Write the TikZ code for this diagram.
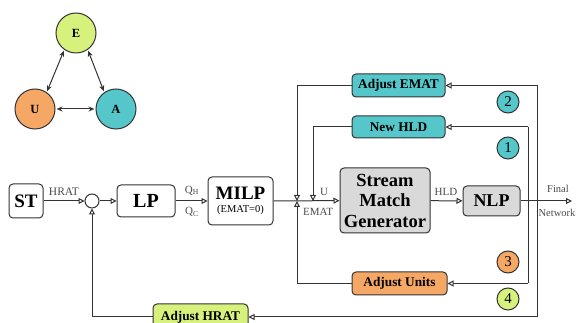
\documentclass[tikz,border=0pt]{standalone}
\usepackage{fontspec}
\setmainfont{Liberation Serif}
\usetikzlibrary{arrows.meta}
\definecolor{tealbox}{HTML}{55C6C9}
\definecolor{orangebox}{HTML}{F5A865}
\definecolor{greenbox}{HTML}{D6F27C}
\definecolor{graybox}{HTML}{D9D9D9}
\definecolor{linec}{HTML}{333333}
\definecolor{labelc}{HTML}{4A4A4A}
\tikzset{
  flow/.style={draw=linec, line width=1pt},
  tip/.style={flow, -{Triangle[open, length=6pt, width=6pt, fill=white]}},
  block/.style={draw=linec, line width=1pt, rounded corners=4pt, inner sep=0pt,
    align=center, font=\bfseries},
  feedback/.style={block, font=\bfseries\fontsize{13.3}{15}\selectfont,
    minimum width=93pt, minimum height=23pt},
  numcirc/.style={circle, draw=linec, line width=1pt, minimum size=22pt, inner sep=0pt,
    font=\fontsize{15}{15}\selectfont},
  stateC/.style={circle, draw=linec, line width=1pt, minimum size=40pt, inner sep=0pt,
    font=\bfseries\fontsize{12.5}{12.5}\selectfont},
  lbl/.style={text=labelc, inner sep=0pt, font=\fontsize{11}{11}\selectfont},
  dbl/.style={draw=linec, line width=1pt, {Stealth[length=6pt,width=5pt]}-{Stealth[length=6pt,width=5pt]}, shorten <=1pt, shorten >=1pt}
}
\begin{document}
\begin{tikzpicture}[x=1pt, y=-1pt]
\useasboundingbox (0,0) rectangle (579,323);

% --- interaction triangle ---
\node[stateC, fill=greenbox] (E) at (76,33) {E};
\node[stateC, fill=orangebox] (U) at (35,109) {U};
\node[stateC, fill=tealbox] (A) at (116,109) {A};
\draw[dbl] (E.235) -- (U.55);
\draw[dbl] (E.305) -- (A.125);
\draw[dbl] (U.east) -- (A.west);

% --- main flow ---
\node[block, fill=white, minimum width=34pt, minimum height=34pt,
  font=\bfseries\fontsize{19}{19}\selectfont] (st) at (26,201) {ST};
\node[circle, draw=linec, line width=1pt, minimum size=14pt, inner sep=0pt, fill=white] (sum) at (92,201) {};
\node[block, fill=white, minimum width=58pt, minimum height=32pt,
  font=\bfseries\fontsize{20}{20}\selectfont] (lp) at (146,201) {LP};
\node[block, fill=white, minimum width=65pt, minimum height=48pt] (milp) at (240.5,201)
  {{\fontsize{19}{20}\selectfont MILP}\\[1pt]{\mdseries\fontsize{10.5}{12}\selectfont (EMAT=0)}};
\node[block, fill=graybox, minimum width=90pt, minimum height=65pt,
  font=\bfseries\fontsize{18.5}{20.5}\selectfont] (smg) at (385,200.5) {Stream\\Match\\Generator};
\node[block, fill=graybox, minimum width=57pt, minimum height=30pt,
  font=\bfseries\fontsize{18}{18}\selectfont] (nlp) at (491.5,201) {NLP};

\coordinate (valve) at (297,201);
\coordinate (uin) at (313,201);
\coordinate (final) at (572,201);

\draw[tip] (st) -- (sum);
\draw[tip] (sum) -- (lp);
\draw[tip] (lp) -- (milp);
\draw[tip] (milp) -- (smg);
\draw[tip] (smg) -- (nlp);
\draw[tip] (nlp) -- (final);

\node[lbl, anchor=south, font=\fontsize{11.5}{11.5}\selectfont] at (64,196) {HRAT};
\node[lbl, anchor=south] at (192,195) {Q\textsubscript{H}};
\node[lbl, anchor=north] at (192,207) {Q\textsubscript{C}};
\node[lbl, anchor=south] at (324,196) {U};
\node[lbl, anchor=north] at (318,208) {EMAT};
\node[lbl, anchor=south] at (446,196) {HLD};
\node[lbl, anchor=south, font=\fontsize{10.5}{10.5}\selectfont] at (558,193) {Final};
\node[lbl, anchor=north, font=\fontsize{10.5}{10.5}\selectfont] at (557,209) {Network};

% --- feedback blocks ---
\node[feedback, fill=tealbox] (emat) at (398.5,85.5) {Adjust EMAT};
\node[feedback, fill=tealbox, minimum height=22pt] (hld) at (398.5,127) {New HLD};
\node[feedback, fill=orangebox, minimum width=95pt] (units) at (399.5,283.5) {Adjust Units};
\node[feedback, fill=greenbox, minimum width=95pt, minimum height=26pt] (hrat) at (200.5,317) {Adjust HRAT};

% tap points on the NLP output
\coordinate (rA1) at (528,127);
\coordinate (rA2) at (528,283.5);
\coordinate (rB1) at (537,85.5);
\coordinate (rB2) at (537,317);
\draw[flow] (rA1) -- (rA2);
\draw[flow] (rB1) -- (rB2);

% loop 2: EMAT
\draw[tip] (rB1) -- (emat.east);
\draw[tip] (emat.west) -| (valve);
% loop 1: new HLD
\draw[tip] (rA1) -- (hld.east);
\draw[tip] (hld.west) -| (uin);
% loop 3: units
\draw[tip] (rA2) -- (units.east);
\draw[tip] (units.west) -| (valve);
% loop 4: HRAT
\draw[tip] (rB2) -- (hrat.east);
\draw[tip] (hrat.west) -| (sum.south);

% loop numbers
\node[numcirc, fill=tealbox] at (508,102) {2};
\node[numcirc, fill=tealbox] at (508,148) {1};
\node[numcirc, fill=orangebox] at (508,262) {3};
\node[numcirc, fill=greenbox] at (508,299) {4};
\end{tikzpicture}
\end{document}
